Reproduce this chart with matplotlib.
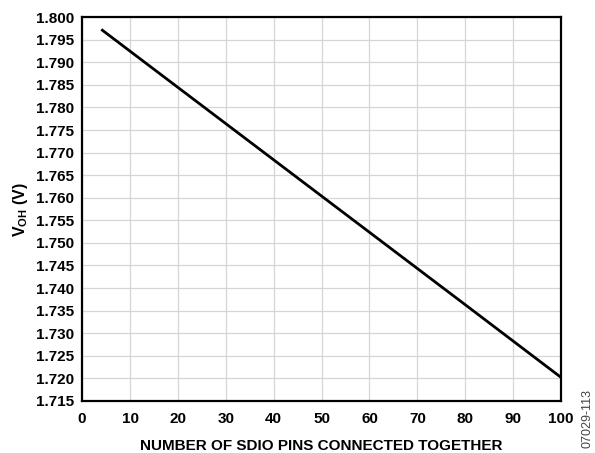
import matplotlib
matplotlib.use("Agg")
import matplotlib.pyplot as plt
import numpy as np

pins = [4, 20, 40, 60, 80, 100]
voh = [1.7973, 1.78445, 1.7684, 1.75235, 1.7363, 1.7202]
xticks = [0, 10, 20, 30, 40, 50, 60, 70, 80, 90, 100]
yticks = [1.715, 1.720, 1.725, 1.730, 1.735, 1.740, 1.745, 1.750, 1.755,
          1.760, 1.765, 1.770, 1.775, 1.780, 1.785, 1.790, 1.795, 1.800]

plt.rcParams['font.family'] = ['Liberation Sans', 'DejaVu Sans']
plt.rcParams['mathtext.fontset'] = 'custom'
plt.rcParams['mathtext.rm'] = 'Liberation Sans:bold'
plt.rcParams['mathtext.bf'] = 'Liberation Sans:bold'
plt.rcParams['mathtext.it'] = 'Liberation Sans:bold'

fig = plt.figure(figsize=(5.95, 4.53), dpi=100)
ax = fig.add_axes([0.138, 0.115, 0.805, 0.847])
ax.plot(pins, voh, color='black', lw=2.0, solid_capstyle='butt')
ax.set_xlim(0, 100)
ax.set_ylim(1.715, 1.800)
ax.set_xticks(xticks)
ax.set_yticks(yticks)
ax.set_yticklabels([f"{v:.3f}" for v in yticks])
ax.grid(True, color='#d6d6d6', lw=0.9)
ax.set_axisbelow(True)
for s in ax.spines.values():
    s.set_linewidth(1.6)
ax.tick_params(length=0, labelsize=11)
ax.tick_params(axis='y', pad=6)
ax.tick_params(axis='x', pad=8)
for lbl in ax.get_xticklabels() + ax.get_yticklabels():
    lbl.set_fontweight('bold')
ax.set_xlabel('NUMBER OF SDIO PINS CONNECTED TOGETHER', fontsize=11, fontweight='bold', labelpad=9)
ax.set_ylabel(r'V$_{\mathrm{OH}}$ (V)', fontsize=11.5, fontweight='bold', labelpad=4)
fig.text(0.988, 0.01, '07029-113', rotation=90, fontsize=9, color='#444444', ha='center', va='bottom')
fig.savefig('out.png', dpi=100)
